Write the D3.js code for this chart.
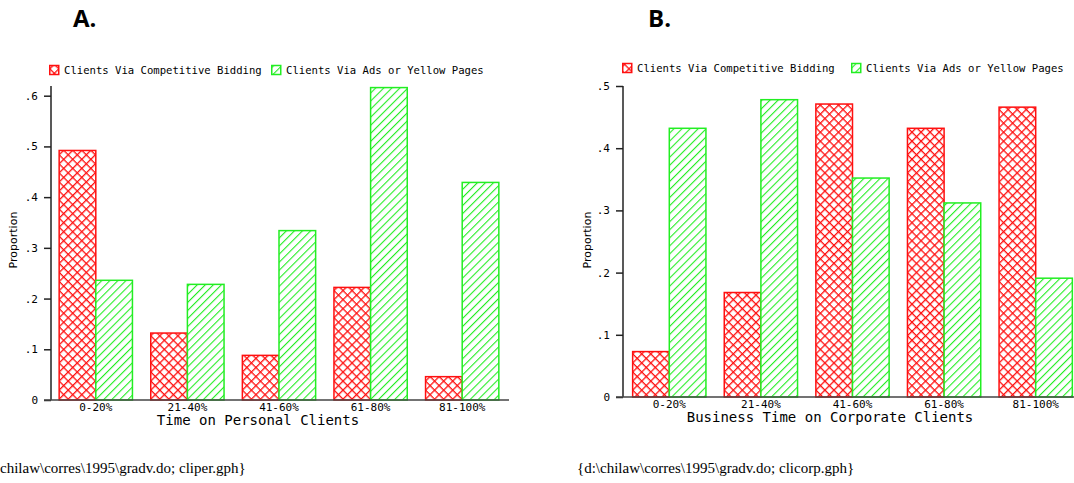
<!DOCTYPE html>
<html>
<head>
<meta charset="utf-8">
<script src="https://cdn.jsdelivr.net/npm/d3@7"></script>
<style>
  html, body { margin: 0; padding: 0; background: #fff; }
  svg { display: block; }
</style>
</head>
<body>
<svg id="chart" width="1074" height="483"></svg>
<script>
// ---- data ----
const categories = ["0-20%", "21-40%", "41-60%", "61-80%", "81-100%"];
const seriesNames = ["Clients Via Competitive Bidding", "Clients Via Ads or Yellow Pages"];
const personalBidding = [0.492, 0.132, 0.088, 0.222, 0.046];
const personalAds = [0.236, 0.228, 0.334, 0.616, 0.429];
const corporateBidding = [0.073, 0.168, 0.471, 0.432, 0.466];
const corporateAds = [0.432, 0.478, 0.352, 0.312, 0.191];
const personalTicks = [0, 0.1, 0.2, 0.3, 0.4, 0.5, 0.6];
const corporateTicks = [0, 0.1, 0.2, 0.3, 0.4, 0.5];
const panelTitles = ["A.", "B."];
const xTitles = ["Time on Personal Clients", "Business Time on Corporate Clients"];
const yTitle = "Proportion";
const footers = ["chilaw\\corres\\1995\\gradv.do; cliper.gph}", "{d:\\chilaw\\corres\\1995\\gradv.do; clicorp.gph}"];

const RED = "#ff1010";
const GREEN = "#22ee22";
const MONO = "'DejaVu Sans Mono', 'Liberation Mono', monospace";

const svg = d3.select("#chart");
const defs = svg.append("defs");

// crosshatch for red
const ch = defs.append("pattern").attr("id", "cross").attr("patternUnits", "userSpaceOnUse")
  .attr("width", 6.4).attr("height", 6.4).attr("patternTransform", "rotate(45)");
ch.append("rect").attr("width", 6.4).attr("height", 6.4).attr("fill", "#fff");
ch.append("line").attr("x1", 0).attr("y1", 0).attr("x2", 0).attr("y2", 6.4).attr("stroke", RED).attr("stroke-width", 2.6);
ch.append("line").attr("x1", 0).attr("y1", 0).attr("x2", 6.4).attr("y2", 0).attr("stroke", RED).attr("stroke-width", 2.6);

// diagonal hatch for green
const dh = defs.append("pattern").attr("id", "diag").attr("patternUnits", "userSpaceOnUse")
  .attr("width", 5.7).attr("height", 5.7).attr("patternTransform", "rotate(45)");
dh.append("rect").attr("width", 5.7).attr("height", 5.7).attr("fill", "#fff");
dh.append("line").attr("x1", 0).attr("y1", 0).attr("x2", 0).attr("y2", 5.7).attr("stroke", GREEN).attr("stroke-width", 2.2);

const fills = ["url(#cross)", "url(#diag)"];
const strokes = [RED, GREEN];

const panels = [
  { bid: personalBidding, ads: personalAds, ticks: personalTicks, yDom: [0, 0.6], yRange: [400, 95.7],
    xRange: [50, 508], axisX: 51, axisEnd: 509, axisTop: 86, title: panelTitles[0], titleX: 73,
    xTitle: xTitles[0], xTitleX: 258, yTitleX: 17, legendX: 49, legendX2: 271, legendY: 70,
    footer: footers[0], footerX: 0 },
  { bid: corporateBidding, ads: corporateAds, ticks: corporateTicks, yDom: [0, 0.5], yRange: [397, 86],
    xRange: [623.5, 1081.5], axisX: 623, axisEnd: 1074, axisTop: 86, title: panelTitles[1], titleX: 648,
    xTitle: xTitles[1], xTitleX: 830, yTitleX: 591, legendX: 622, legendX2: 851, legendY: 68,
    footer: footers[1], footerX: 577 }
];

const tickFmt = d => d === 0 ? "0" : d3.format(".1f")(d).replace(/^0/, "");

panels.forEach(p => {
  const g = svg.append("g");
  const y = d3.scaleLinear().domain(p.yDom).range(p.yRange);
  const x0 = d3.scaleBand().domain(categories).range(p.xRange).paddingInner(0.2).paddingOuter(0.1);
  const x1 = d3.scaleBand().domain([0, 1]).range([0, x0.bandwidth()]);

  // panel title
  g.append("text").attr("x", p.titleX).attr("y", 27).text(p.title)
    .attr("font-family", "'Open Sans', 'Liberation Sans', sans-serif").attr("font-weight", "bold")
    .attr("font-size", 24).attr("fill", "#000");

  // bars
  const rows = categories.map((c, i) => ({ c, vals: [p.bid[i], p.ads[i]] }));
  const grp = g.selectAll("g.grp").data(rows).enter().append("g")
    .attr("transform", d => `translate(${x0(d.c)},0)`);
  grp.selectAll("rect").data(d => d.vals.map((v, k) => ({ v, k }))).enter().append("rect")
    .attr("x", d => x1(d.k)).attr("width", x1.bandwidth())
    .attr("y", d => y(d.v)).attr("height", d => y(0) - y(d.v))
    .attr("fill", d => fills[d.k]).attr("stroke", d => strokes[d.k]).attr("stroke-width", 1.5);

  // y axis
  const yAxis = d3.axisLeft(y).tickValues(p.ticks).tickFormat(tickFmt).tickSize(7).tickPadding(6);
  const ya = g.append("g").attr("transform", `translate(${p.axisX},0)`).call(yAxis);
  ya.select(".domain").remove();
  ya.selectAll(".tick line").attr("stroke", "#222").attr("stroke-width", 1.5);
  ya.selectAll("text").attr("font-family", MONO).attr("font-size", 11).attr("fill", "#000");
  g.append("line").attr("x1", p.axisX).attr("x2", p.axisX).attr("y1", y(0)).attr("y2", p.axisTop)
    .attr("stroke", "#222").attr("stroke-width", 1.5);

  // x axis
  const xAxis = d3.axisBottom(x0).tickSize(0).tickPadding(3);
  const xa = g.append("g").attr("transform", `translate(0,${y(0)})`).call(xAxis);
  xa.select(".domain").remove();
  xa.selectAll("text").attr("font-family", MONO).attr("font-size", 11).attr("fill", "#000");
  g.append("line").attr("x1", p.axisX - 7).attr("x2", p.axisEnd).attr("y1", y(0)).attr("y2", y(0))
    .attr("stroke", "#444").attr("stroke-width", 1.5);

  // x title
  g.append("text").attr("x", p.xTitleX).attr("y", y(0) + 25).attr("text-anchor", "middle")
    .attr("font-family", MONO).attr("font-size", 14).attr("fill", "#000").text(p.xTitle);

  // y title
  g.append("text").attr("transform", `translate(${p.yTitleX},${240}) rotate(-90)`)
    .attr("text-anchor", "middle").attr("font-family", "'DejaVu Sans', sans-serif")
    .attr("font-size", 11).attr("fill", "#000").text(yTitle);

  // legend
  [p.legendX, p.legendX2].forEach((lx, k) => {
    g.append("rect").attr("x", lx + 0.75).attr("y", p.legendY - 4.5).attr("width", 9).attr("height", 9)
      .attr("fill", fills[k]).attr("stroke", strokes[k]).attr("stroke-width", 1.5);
    g.append("text").attr("x", lx + 15).attr("y", p.legendY + 4).attr("font-family", MONO)
      .attr("font-size", 10.6).attr("fill", "#000").text(seriesNames[k]);
  });

  // footer
  g.append("text").attr("x", p.footerX).attr("y", 473).attr("font-family", "'Liberation Serif', 'Times New Roman', serif")
    .attr("font-size", 15).attr("fill", "#000").text(p.footer);
});
</script>
</body>
</html>
